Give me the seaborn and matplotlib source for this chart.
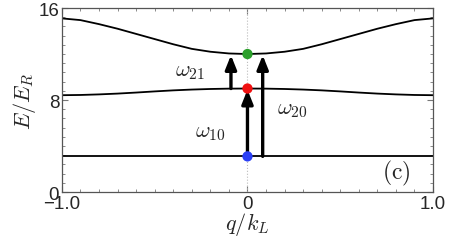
import numpy as np
import pandas as pd
import matplotlib
matplotlib.use("Agg")
import matplotlib.pyplot as plt
import seaborn as sns
from matplotlib.ticker import MultipleLocator, FixedLocator

# ---- data ----
q_half = [0.0, 0.1, 0.2, 0.3, 0.4, 0.5, 0.6, 0.7, 0.8, 0.9, 1.0]
band1_half = [3.1, 3.1, 3.1, 3.1, 3.1, 3.1, 3.1, 3.1, 3.1, 3.1, 3.1]
band2_half = [9.0, 8.99, 8.96, 8.91, 8.84, 8.75, 8.65, 8.56, 8.49, 8.44, 8.42]
band3_half = [12.0, 12.05, 12.2, 12.45, 12.85, 13.3, 13.75, 14.2, 14.6, 14.95, 15.1]

# bands are symmetric in q
q_vals = [-v for v in q_half[:0:-1]] + q_half
band1 = band1_half[:0:-1] + band1_half
band2 = band2_half[:0:-1] + band2_half
band3 = band3_half[:0:-1] + band3_half

dot_q = [0.0, 0.0, 0.0]
dot_E = [3.1, 9.0, 12.0]
dot_colors = ["#2a3ff5", "#f01010", "#2ca02c"]

arrow_q = [0.0, 0.082, -0.089]
arrow_E0 = [3.1, 3.1, 9.0]
arrow_E1 = [9.0, 12.0, 12.0]

label_text = [r"$\omega_{10}$", r"$\omega_{20}$", r"$\omega_{21}$"]
label_q = [-0.2, 0.24, -0.31]
label_E = [5.3, 7.3, 10.6]

x_ticks = [-1.0, 0.0, 1.0]
x_tick_labels = ["\u22121.0", "0", "1.0"]
y_ticks = [0, 8, 16]
y_tick_labels = ["0", "8", "16"]

# ---- plot ----
sns.set_theme(style="ticks")
plt.rcParams["font.family"] = ["Liberation Sans", "DejaVu Sans"]
plt.rcParams["mathtext.fontset"] = "cm"

fig = plt.figure(figsize=(4.52, 2.51), dpi=100)
ax = fig.add_axes([0.137, 0.231, 0.821, 0.733])

ax.axvline(0, color="#bbbbbb", lw=0.8, ls=":", zorder=1)

df = pd.DataFrame({"q": q_vals * 3,
                   "E": band1 + band2 + band3,
                   "band": ["1"] * len(q_vals) + ["2"] * len(q_vals) + ["3"] * len(q_vals)})
sns.lineplot(data=df, x="q", y="E", units="band", estimator=None,
             color="black", lw=1.3, ax=ax, zorder=2)

for xq, e0, e1 in zip(arrow_q, arrow_E0, arrow_E1):
    ax.annotate("", xy=(xq, e1 - 0.1), xytext=(xq, e0),
                arrowprops=dict(arrowstyle="-|>,head_length=0.7,head_width=0.28",
                                color="black", lw=2.4, shrinkA=0, shrinkB=0),
                zorder=3)

sns.scatterplot(x=dot_q, y=dot_E, hue=[str(i) for i in range(3)],
                palette=dot_colors, s=55, edgecolor="none", legend=False,
                ax=ax, zorder=4)

for t, xq, e in zip(label_text, label_q, label_E):
    ax.text(xq, e, t, fontsize=16, ha="center", va="center")
ax.text(0.8, 1.7, r"$(\mathrm{c})$", fontsize=17, ha="center", va="center")

ax.set_xlim(-1, 1)
ax.set_ylim(0, 16)
ax.xaxis.set_major_locator(FixedLocator(x_ticks))
ax.set_xticklabels(x_tick_labels)
ax.yaxis.set_major_locator(FixedLocator(y_ticks))
ax.set_yticklabels(y_tick_labels)
ax.xaxis.set_minor_locator(MultipleLocator(0.1))
ax.yaxis.set_minor_locator(MultipleLocator(0.8))
ax.tick_params(which="both", direction="in", top=True, right=True,
               color="#777777", labelsize=13.5, pad=2)
ax.tick_params(which="major", length=4, width=0.8)
ax.tick_params(which="minor", length=2.5, width=0.6)
for s in ax.spines.values():
    s.set_color("#555555")
    s.set_linewidth(0.9)

ax.set_xlabel(r"$q/k_L$", fontsize=16, labelpad=-1)
ax.set_ylabel(r"$E/E_R$", fontsize=16, labelpad=0)

fig.savefig("out.png", dpi=100)
